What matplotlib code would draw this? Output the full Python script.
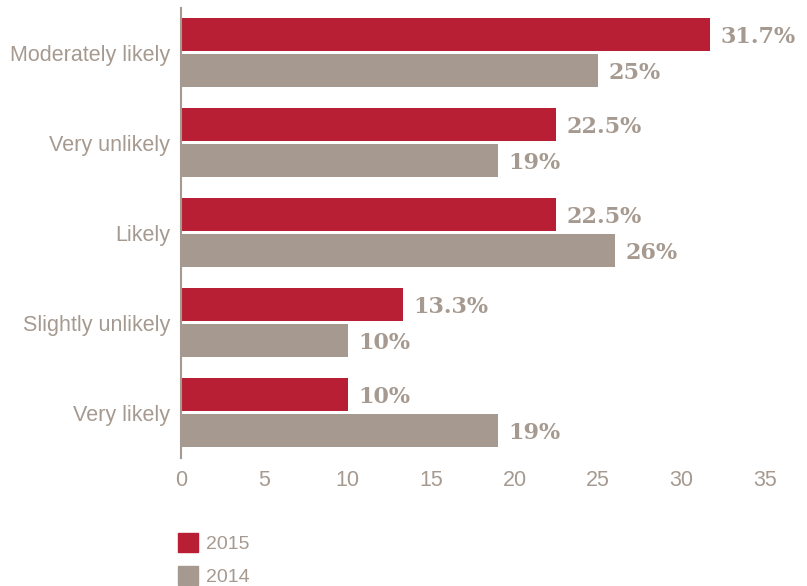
import matplotlib
matplotlib.use('Agg')
import numpy as np
from matplotlib import pyplot as plt
from matplotlib.patches import Patch

categories = ['Moderately likely', 'Very unlikely', 'Likely', 'Slightly unlikely', 'Very likely']
vals_2015 = [31.7, 22.5, 22.5, 13.3, 10]
vals_2014 = [25, 19, 26, 10, 19]
labels_2015 = ['31.7%', '22.5%', '22.5%', '13.3%', '10%']
labels_2014 = ['25%', '19%', '26%', '10%', '19%']
xticks = [0, 5, 10, 15, 20, 25, 30, 35]

RED = '#B81E34'
GREY = '#A69A90'
TXT = '#A69A90'

fig = plt.figure(figsize=(8.07, 5.86), dpi=100)
ax = fig.add_axes([181 / 807, 1 - 457.5 / 586, 584 / 807, 450 / 586])

y = np.arange(len(categories))
h = 0.367
ax.barh(y - 0.2, vals_2015, height=h, color=RED)
ax.barh(y + 0.2, vals_2014, height=h, color=GREY)

# value labels, a little right of the bar ends
for yi, v, s in zip(y, vals_2015, labels_2015):
    ax.annotate(s, (v, yi - 0.2), xytext=(7.5, -1.5), textcoords='offset points',
                va='center', ha='left', fontsize=16, fontweight='bold',
                family='DejaVu Serif', color=TXT)
for yi, v, s in zip(y, vals_2014, labels_2014):
    ax.annotate(s, (v, yi + 0.2), xytext=(7.5, -1.5), textcoords='offset points',
                va='center', ha='left', fontsize=16, fontweight='bold',
                family='DejaVu Serif', color=TXT)

ax.set_xlim(0, 35)
ax.set_ylim(4.5, -0.5)
ax.set_xticks(xticks)
ax.set_yticks(y)
ax.set_yticklabels(categories)
for lab in ax.get_xticklabels() + ax.get_yticklabels():
    lab.set_family('Liberation Sans')
    lab.set_fontsize(15.5)
    lab.set_color(TXT)
ax.tick_params(axis='both', length=0)
ax.tick_params(axis='x', pad=9)
ax.tick_params(axis='y', pad=8)
for side in ['top', 'right', 'bottom']:
    ax.spines[side].set_visible(False)
ax.spines['left'].set_color(GREY)
ax.spines['left'].set_linewidth(1.5)

handles = [Patch(color=RED, label='2015'), Patch(color=GREY, label='2014')]
leg = fig.legend(handles=handles, loc='lower left', bbox_to_anchor=(178 / 807, 0.0),
                 frameon=False, handlelength=1.03, handleheight=1.13, borderpad=0,
                 borderaxespad=0, handletextpad=0.4, labelspacing=0.65,
                 prop={'family': 'Liberation Sans', 'size': 14})
for t in leg.get_texts():
    t.set_color(TXT)

fig.savefig('out.png', dpi=100)
